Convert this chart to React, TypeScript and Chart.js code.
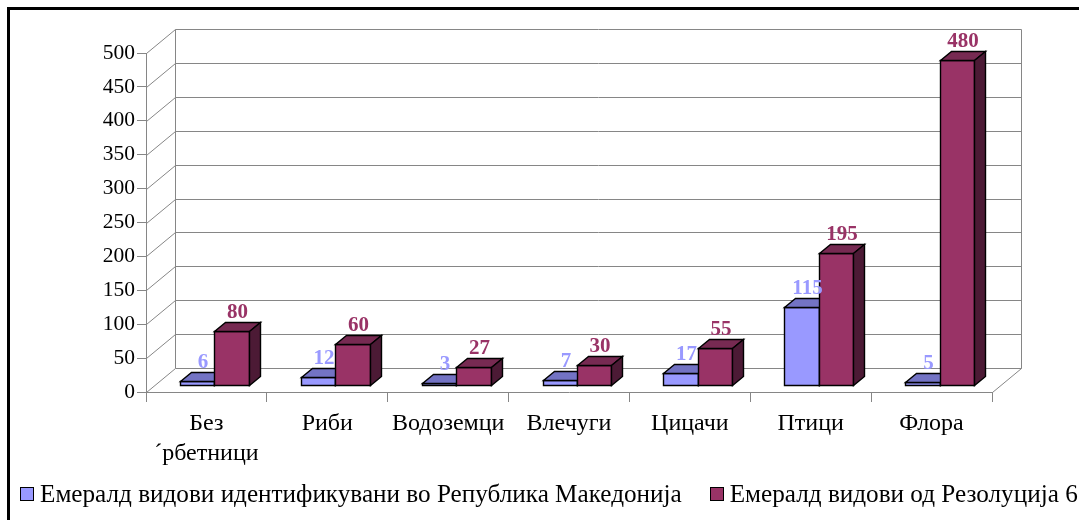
import React, { useEffect, useRef } from "react";
import { Chart, registerables } from "chart.js";

Chart.register(...registerables);

// ---- data ----
const CATEGORIES: (string | string[])[] = [
  ["Без", "´рбетници"],
  "Риби",
  "Водоземци",
  "Влечуги",
  "Цицачи",
  "Птици",
  "Флора",
];
const MK_VALUES = [6, 12, 3, 7, 17, 115, 5];
const RES_VALUES = [80, 60, 27, 30, 55, 195, 480];
const SERIES_NAMES = [
  "Емералд видови идентификувани во Република Македонија",
  "Емералд видови од Резолуција 6",
];
const Y_MIN = 0;
const Y_MAX = 500;
const Y_STEP = 50;

// ---- styles ----
const FONT = '"Liberation Serif", "Times New Roman", serif';
const GRID = "#868686";
const FACE = [
  { front: "#9999FF", top: "#7373C4", side: "#4D4D80", label: "#9999FF" },
  { front: "#993366", top: "#772A52", side: "#4C1A35", label: "#993366" },
];
const WALL_DX = 29;
const WALL_DY = -24;
const BAR_DX = 8;
const BAR_DY = -7;
const DEPTH_DX = 11;
const DEPTH_DY = -9;

const depthPlugin = {
  id: "depth3d",
  beforeDatasetsDraw(chart: any) {
    const ctx = chart.ctx as CanvasRenderingContext2D;
    const ys = chart.scales.y;
    const { left, right, top, bottom } = chart.chartArea;
    const L = Math.round(left) + 0.5;
    const R = Math.round(right) + 0.5;
    ctx.save();
    ctx.strokeStyle = GRID;
    ctx.lineWidth = 1;
    ctx.beginPath();
    for (const t of ys.ticks) {
      const y = Math.round(ys.getPixelForValue(t.value)) + 0.5;
      ctx.moveTo(L, y);
      ctx.lineTo(L + WALL_DX, y + WALL_DY);
      ctx.lineTo(R + WALL_DX, y + WALL_DY);
    }
    const T = Math.round(top) + 0.5;
    const B = Math.round(bottom) + 0.5;
    ctx.moveTo(L + WALL_DX, T + WALL_DY);
    ctx.lineTo(L + WALL_DX, B + WALL_DY);
    ctx.moveTo(R + WALL_DX, T + WALL_DY);
    ctx.lineTo(R + WALL_DX, B + WALL_DY);
    ctx.moveTo(R, B);
    ctx.lineTo(R + WALL_DX, B + WALL_DY);
    ctx.stroke();

    // bars
    const metas = [chart.getDatasetMeta(0), chart.getDatasetMeta(1)];
    const labels: { text: string; x: number; y: number; color: string }[] = [];
    ctx.lineWidth = 1.4;
    ctx.strokeStyle = "#000";
    ctx.lineJoin = "miter";
    for (let i = 0; i < CATEGORIES.length; i++) {
      metas.forEach((meta: any, d: number) => {
        const el = meta.data[i];
        const p = el.getProps(["x", "y", "base", "width"], true);
        const x0 = Math.round(p.x - p.width / 2 + BAR_DX) + 0.5;
        const x1 = Math.round(p.x + p.width / 2 + BAR_DX) + 0.5;
        const yt = Math.round(p.y + BAR_DY) + 0.5;
        const yb = Math.round(p.base + BAR_DY) + 0.5;
        const f = FACE[d];
        // front
        ctx.beginPath();
        ctx.rect(x0, yt, x1 - x0, yb - yt);
        ctx.fillStyle = f.front;
        ctx.fill();
        ctx.stroke();
        // top
        ctx.beginPath();
        ctx.moveTo(x0, yt);
        ctx.lineTo(x1, yt);
        ctx.lineTo(x1 + DEPTH_DX, yt + DEPTH_DY);
        ctx.lineTo(x0 + DEPTH_DX, yt + DEPTH_DY);
        ctx.closePath();
        ctx.fillStyle = f.top;
        ctx.fill();
        ctx.stroke();
        // side
        ctx.beginPath();
        ctx.moveTo(x1, yt);
        ctx.lineTo(x1 + DEPTH_DX, yt + DEPTH_DY);
        ctx.lineTo(x1 + DEPTH_DX, yb + DEPTH_DY);
        ctx.lineTo(x1, yb);
        ctx.closePath();
        ctx.fillStyle = f.side;
        ctx.fill();
        ctx.stroke();
        const v = chart.data.datasets[d].data[i];
        labels.push({
          text: String(v),
          x: (x0 + x1) / 2 + DEPTH_DX / 2,
          y: yt + DEPTH_DY - 5,
          color: f.label,
        });
      });
    }
    ctx.font = `bold 21px ${FONT}`;
    ctx.textAlign = "center";
    ctx.textBaseline = "alphabetic";
    for (const l of labels) {
      ctx.fillStyle = l.color;
      ctx.fillText(l.text, l.x, l.y);
    }
    ctx.restore();
    return false;
  },
};

export default function App() {
  const ref = useRef<HTMLCanvasElement>(null);
  useEffect(() => {
    if (!ref.current) return;
    const chart = new Chart(ref.current, {
      type: "bar",
      data: {
        labels: CATEGORIES,
        datasets: [
          { label: SERIES_NAMES[0], data: MK_VALUES, backgroundColor: FACE[0].front },
          { label: SERIES_NAMES[1], data: RES_VALUES, backgroundColor: FACE[1].front },
        ],
      },
      options: {
        animation: false,
        responsive: false,
        events: [],
        layout: { padding: { left: 0, top: 53, right: 87, bottom: 0 } },
        datasets: { bar: { categoryPercentage: 0.57, barPercentage: 1 } },
        plugins: { legend: { display: false }, tooltip: { enabled: false } },
        scales: {
          x: {
            grid: { offset: true, drawOnChartArea: false, drawTicks: true, tickLength: 10, color: GRID },
            border: { display: true, color: GRID },
            ticks: { color: "#000", font: { family: FONT, size: 24, lineHeight: 1.25 }, padding: 7, maxRotation: 0, autoSkip: false },
            afterFit: (s: any) => { s.height = 520 - 392; },
          },
          y: {
            min: Y_MIN,
            max: Y_MAX,
            grid: { drawOnChartArea: false, drawTicks: true, tickLength: 9, color: GRID },
            border: { display: true, color: GRID },
            ticks: { stepSize: Y_STEP, color: "#000", font: { family: FONT, size: 21.5 }, padding: 2 },
            afterFit: (s: any) => { s.width = 146; },
          },
        },
      },
      plugins: [depthPlugin],
    });
    return () => chart.destroy();
  }, []);

  return (
    <div style={{ position: "absolute", left: 0, top: 0, width: 1079, height: 520, overflow: "hidden", background: "#fff" }}>
      <div style={{ position: "absolute", left: 7, top: 7, width: 3000, height: 3000, borderLeft: "3px solid #000", borderTop: "3px solid #000" }} />
      <canvas ref={ref} width={1079} height={520} style={{ position: "absolute", left: 0, top: 0 }} />
      <div style={{ position: "absolute", left: 20, top: 481, display: "flex", alignItems: "center", whiteSpace: "nowrap", fontFamily: FONT, fontSize: 25.2, lineHeight: 1, color: "#000" }}>
        {SERIES_NAMES.map((n, i) => (
          <div key={i} style={{ display: "flex", alignItems: "center", marginRight: 28 }}>
            <span style={{ display: "inline-block", width: 12, height: 12, border: "1px solid #000", background: FACE[i].front, marginRight: 6 }} />
            <span>{n}</span>
          </div>
        ))}
      </div>
    </div>
  );
}
